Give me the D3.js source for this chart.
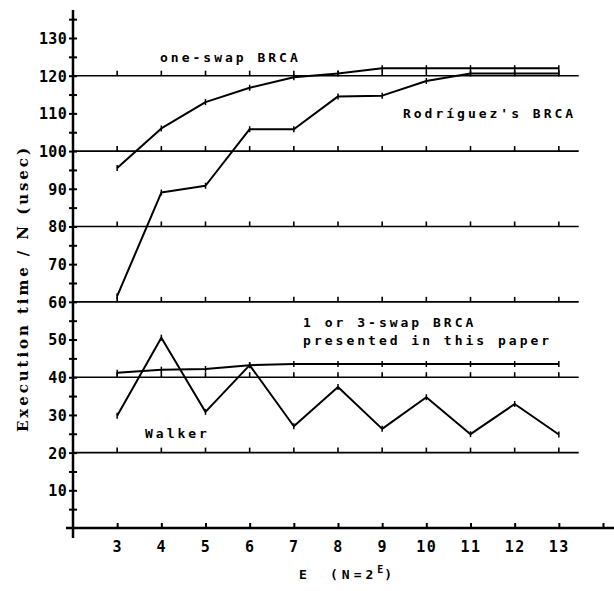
<!DOCTYPE html>
<html>
<head>
<meta charset="utf-8">
<script src="https://cdn.jsdelivr.net/npm/d3@7"></script>
<style>
  body { margin: 0; background: #fff; }
  text { fill: #000; }
</style>
</head>
<body>
<svg id="chart"></svg>
<script>
const width = 614, height = 591

// data
const exponents = [3, 4, 5, 6, 7, 8, 9, 10, 11, 12, 13]
const oneSwap = [95.5, 106, 113, 116.8, 119.6, 120.6, 122, 122, 122, 122, 122]
const rodriguez = [61.5, 89, 90.8, 105.8, 105.8, 114.5, 114.7, 118.6, 120.6, 120.6, 120.6]
const threeSwap = [41.2, 42, 42.2, 43.2, 43.5, 43.5, 43.5, 43.5, 43.5, 43.5, 43.5]
const walker = [29.8, 50.5, 30.8, 43.2, 27, 37.4, 26.3, 34.7, 24.9, 32.9, 24.8]
const yTickLabels = [10, 20, 30, 40, 50, 60, 70, 80, 90, 100, 110, 120, 130]
const xTickLabels = [3, 4, 5, 6, 7, 8, 9, 10, 11, 12, 13]
const gridValues = [20, 40, 60, 80, 100, 120]

const series = [
    { name: "one-swap", values: oneSwap },
    { name: "rodriguez", values: rodriguez },
    { name: "three-swap", values: threeSwap },
    { name: "walker", values: walker },
]

// annotation anchors in data units (E, usec)
const notes = [
    { text: "one-swap BRCA", e: 3.97, v: 123.6 },
    { text: "Rodríguez's BRCA", e: 9.47, v: 108.8 },
    { text: "1 or 3-swap BRCA", e: 7.21, v: 53.3 },
    { text: "presented in this paper", e: 7.21, v: 48.6 },
    { text: "Walker", e: 3.63, v: 23.9 },
]

const svg = d3.select("svg#chart")
    .attr("width", width)
    .attr("height", height)
    .attr("viewBox", [0, 0, width, height])
    .style("background", "#ffffff")

const xScale = d3.scaleLinear()
    .domain([2, 14])
    .range([73, 603])

const yScale = d3.scaleLinear()
    .domain([0, 130])
    .range([528, 38])

const ink = "#000"
const labelFont = "'DejaVu Sans Mono', monospace"

// horizontal reference lines with little up-ticks at each E
const grid = svg.append("g").attr("class", "grid")
gridValues.forEach(v => {
    grid.append("line")
        .attr("x1", xScale(2)).attr("x2", xScale(13.45))
        .attr("y1", yScale(v)).attr("y2", yScale(v))
        .attr("stroke", ink).attr("stroke-width", 1.6)
    grid.selectAll(null)
        .data(exponents)
        .enter()
        .append("line")
        .attr("x1", d => xScale(d)).attr("x2", d => xScale(d))
        .attr("y1", yScale(v)).attr("y2", yScale(v) - 5)
        .attr("stroke", ink).attr("stroke-width", 1.6)
})

// y axis
const yAxis = svg.append("g")
    .attr("transform", `translate(${xScale(2)}, 0)`)
    .call(d3.axisLeft(yScale).tickValues(d3.range(5, 140, 5)).tickSize(4)
        .tickFormat(d => yTickLabels.includes(d) ? d : ""))
yAxis.select(".domain").remove()
yAxis.selectAll(".tick line").attr("x1", 4).attr("x2", -4).attr("stroke-width", 2)
yAxis.selectAll(".tick text")
    .attr("x", -6)
    .attr("dy", "0.36em")
    .style("font-family", labelFont)
    .style("font-weight", "bold")
    .style("font-size", "15px")
    .style("letter-spacing", "0.3px")
yAxis.append("line")
    .attr("x1", 0).attr("x2", 0)
    .attr("y1", 10).attr("y2", 538)
    .attr("stroke", ink).attr("stroke-width", 2.5)

// x axis
const xAxis = svg.append("g")
    .attr("transform", `translate(0, ${yScale(0)})`)
    .call(d3.axisTop(xScale).tickValues(d3.range(3, 15)).tickSize(5)
        .tickFormat(d => xTickLabels.includes(d) ? d : ""))
xAxis.select(".domain").remove()
xAxis.selectAll(".tick line").attr("stroke-width", 2)
xAxis.selectAll(".tick text")
    .attr("y", 19)
    .attr("dy", "0.36em")
    .style("font-family", labelFont)
    .style("font-weight", "bold")
    .style("font-size", "15px")
    .style("letter-spacing", "1.5px")
xAxis.append("line")
    .attr("x1", 66).attr("x2", width)
    .attr("y1", 0).attr("y2", 0)
    .attr("stroke", ink).attr("stroke-width", 2.5)

// curves
const line = d3.line()
    .x((d, i) => xScale(exponents[i]))
    .y(d => yScale(d))

const curves = svg.selectAll("g.curve")
    .data(series)
    .enter()
    .append("g").attr("class", "curve")

curves.append("path")
    .attr("d", d => line(d.values))
    .attr("fill", "none")
    .attr("stroke", ink)
    .attr("stroke-width", 2)
    .attr("stroke-linejoin", "round")

curves.selectAll("line.mark")
    .data(d => d.values)
    .enter()
    .append("line").attr("class", "mark")
    .attr("x1", (d, i) => xScale(exponents[i])).attr("x2", (d, i) => xScale(exponents[i]))
    .attr("y1", d => yScale(d) - 3).attr("y2", d => yScale(d) + 3)
    .attr("stroke", ink).attr("stroke-width", 1.5)

// annotations
svg.selectAll("text.note")
    .data(notes)
    .enter()
    .append("text").attr("class", "note")
    .attr("x", d => xScale(d.e))
    .attr("y", d => yScale(d.v))
    .style("font-family", labelFont)
    .style("font-weight", "bold")
    .style("font-size", "13px")
    .style("letter-spacing", "3px")
    .text(d => d.text)

// axis titles
svg.append("text")
    .attr("transform", `translate(28, 290) rotate(-90)`)
    .attr("text-anchor", "middle")
    .attr("textLength", 284)
    .attr("lengthAdjust", "spacing")
    .style("font-family", "'DejaVu Serif', serif")
    .style("font-weight", "bold")
    .style("font-size", "15px")
    .text("Execution time / N (usec)")

const xTitle = svg.append("text")
    .attr("x", 299)
    .attr("y", 579)
    .style("font-family", labelFont)
    .style("font-weight", "bold")
    .style("font-size", "13px")
    .style("letter-spacing", "4px")
xTitle.append("tspan").text("E")
xTitle.append("tspan").attr("x", 330).text("(N=2")
xTitle.append("tspan").attr("dy", -6).style("font-size", "10px").style("letter-spacing", "1px").text("E")
xTitle.append("tspan").attr("dy", 6).text(")")
</script>
</body>
</html>
